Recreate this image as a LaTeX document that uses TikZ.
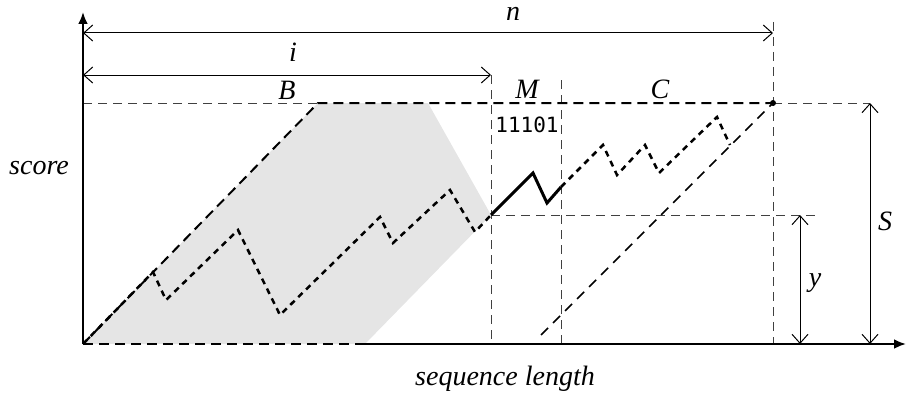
\documentclass[tikz,border=0pt]{standalone}
\usepackage{fontspec}
\setmainfont{Liberation Serif}
\newfontfamily\bitfont{DejaVu Sans Mono}
\usetikzlibrary{arrows.meta}
\begin{document}
\begin{tikzpicture}[x=1pt,y=-1pt,font=\fontsize{28}{32}\selectfont,
  axis/.style={line width=2.5pt,-{Latex[length=12pt,width=10pt]}},
  dim/.style={line width=1pt,{Straight Barb[length=9pt,width=16pt]}-{Straight Barb[length=9pt,width=16pt]}},
  guide/.style={line width=1pt,black!75,dash pattern=on 9pt off 6pt},
  bound/.style={line width=2pt,dash pattern=on 10pt off 6pt},
  walk/.style={line width=2.5pt,dash pattern=on 6pt off 5pt},
  lbl/.style={font=\fontsize{28}{32}\selectfont\itshape,anchor=base,inner sep=0pt}]
  \useasboundingbox (0,0) rectangle (907,396);
  % key points
  \coordinate (O) at (83,344);
  \coordinate (ytip) at (83,12);
  \coordinate (xtip) at (906,344);
  \coordinate (foot) at (365,344);
  \coordinate (peakL) at (318,103);
  \coordinate (peakR) at (428,103);
  \coordinate (j) at (491,215);
  \coordinate (m) at (561,187);
  \coordinate (top) at (773,103);
  \coordinate (low) at (541,335);
  % shaded region of B
  \fill[black!10] (O) -- (peakL) -- (peakR) -- (j) -- (foot) -- cycle;
  % guide lines
  \draw[guide] (491,75) -- (491,344);
  \draw[guide] (561,80) -- (561,344);
  \draw[guide] (773,22) -- (773,344);
  \draw[guide] (O |- peakL) -- (peakL);
  \draw[guide] (top) -- (870,103);
  \draw[guide] (j) -- (815,215);
  % axes
  \draw[axis] (O) -- (ytip);
  \draw[axis] (foot) -- (xtip);
  \draw[bound] (O) -- (foot);
  \draw[bound] (O) -- (peakL) -- (top);
  \draw[line width=1.5pt,dash pattern=on 10pt off 7pt] (low) -- (top);
  \fill (top) circle (3pt);
  % walks
  \draw[walk] (O) -- (153,272) -- (166,300) -- (238,230) -- (280,315)
    -- (380,217) -- (393,243) -- (450,190) -- (475,232) -- (j);
  \draw[line width=3pt] (j) -- (533,173) -- (547,203) -- (m);
  \draw[walk] (m) -- (603,145) -- (617,175) -- (645,145) -- (659,173)
    -- (717,117) -- (730,145);
  % dimensions
  \draw[dim] (83,33) -- (773,33);
  \draw[dim] (83,75) -- (491,75);
  \draw[dim] (800,215) -- (800,344);
  \draw[dim] (870,103) -- (870,344);
  % labels
  \node[lbl,text height=1.2ex] (nlbl) at (513,21) {n};
  \node[lbl] (ilbl) at (293,62) {i};
  \node[lbl] (blbl) at (287,99) {B};
  \node[lbl] (mlbl) at (527,98) {M};
  \node[lbl] (clbl) at (660,98) {C};
  \node[anchor=base,font=\bitfont\fontsize{21}{24}\selectfont] (bits) at (527,132) {11101};
  \node[lbl] (score) at (39,174) {score};
  \node[lbl] (seq) at (505,385) {sequence length};
  \node[lbl] (ylbl) at (815,286) {y};
  \node[lbl] (slbl) at (885,230) {S};
\end{tikzpicture}
\end{document}
